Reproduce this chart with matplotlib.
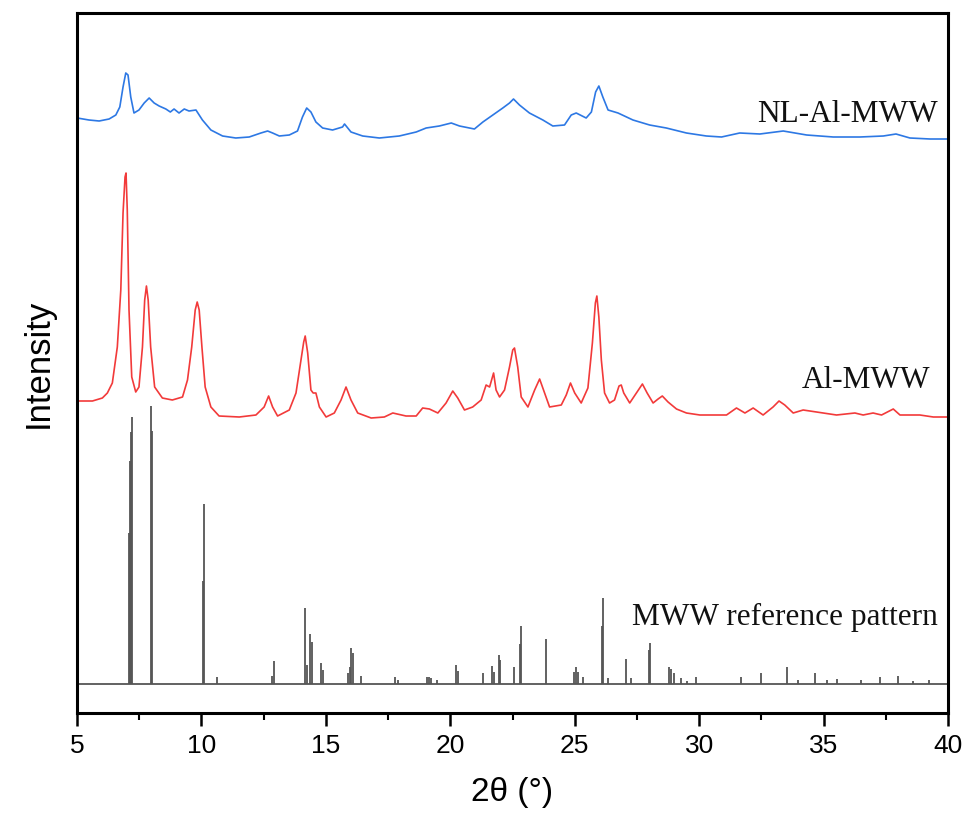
import matplotlib
matplotlib.use("Agg")
import matplotlib.pyplot as plt
from matplotlib.ticker import MultipleLocator

# NL-Al-MWW (blue), y in arbitrary intensity units
nl_x = [5.01, 5.48, 5.89, 6.29, 6.56, 6.72, 6.85, 6.96, 7.05, 7.16, 7.29, 7.49, 7.70, 7.90,
        8.10, 8.30, 8.57, 8.75, 8.90, 9.10, 9.31, 9.50, 9.78, 10.04, 10.38, 10.85, 11.38,
        11.92, 12.39, 12.66, 12.86, 13.13, 13.53, 13.86, 14.06, 14.23, 14.40, 14.60, 14.87,
        15.27, 15.67, 15.75, 16.01, 16.48, 17.15, 17.95, 18.63, 19.03, 19.56, 20.04, 20.37,
        20.97, 21.31, 21.71, 22.11, 22.38, 22.54, 22.78, 23.18, 23.72, 24.12, 24.59, 24.86,
        25.06, 25.46, 25.67, 25.84, 25.97, 26.13, 26.34, 26.74, 27.34, 28.01, 28.68, 29.49,
        30.29, 30.90, 31.63, 32.44, 33.38, 34.32, 35.39, 36.46, 37.40, 37.91, 38.47, 39.28,
        40.0]
nl_y = [595, 593, 592, 594, 598, 606, 626, 640, 638, 616, 600, 603, 610, 615,
        610, 607, 604, 601, 604, 600, 604, 602, 603, 593, 583, 577, 575,
        576, 580, 582, 580, 577, 578, 582, 596, 605, 601, 591, 585,
        583, 586, 589, 581, 577, 575, 577, 581, 585, 587, 590, 587,
        584, 591, 598, 605, 610, 614, 608, 600, 593, 587, 588, 598,
        600, 595, 601, 621, 627, 616, 603, 600, 593, 588, 585, 580,
        577, 576, 580, 579, 582, 578, 576, 576, 577, 579, 575, 574,
        574]

# Al-MWW (red)
al_x = [5.01, 5.62, 6.02, 6.22, 6.42, 6.62, 6.76, 6.85, 6.93, 6.97, 7.02, 7.09, 7.20, 7.36,
        7.49, 7.63, 7.72, 7.79, 7.86, 7.96, 8.12, 8.43, 8.83, 9.24, 9.44, 9.61, 9.75, 9.83,
        9.91, 10.02, 10.15, 10.38, 10.71, 11.52, 12.19, 12.52, 12.70, 12.86, 13.06, 13.53,
        13.80, 14.00, 14.11, 14.17, 14.27, 14.40, 14.49, 14.60, 14.74, 15.01, 15.34, 15.61,
        15.81, 16.01, 16.28, 16.82, 17.35, 17.69, 18.22, 18.63, 18.89, 19.16, 19.50, 19.83,
        20.10, 20.30, 20.57, 20.90, 21.24, 21.44, 21.58, 21.74, 21.84, 21.98, 22.18, 22.38,
        22.51, 22.58, 22.71, 22.85, 23.12, 23.39, 23.59, 23.79, 23.99, 24.46, 24.66, 24.83,
        25.00, 25.26, 25.53, 25.71, 25.83, 25.89, 25.97, 26.07, 26.20, 26.40, 26.60, 26.78,
        26.87, 26.97, 27.21, 27.48, 27.72, 27.91, 28.15, 28.35, 28.52, 28.75, 29.09, 29.49,
        30.03, 31.10, 31.50, 31.84, 32.17, 32.57, 32.97, 33.21, 33.44, 33.78, 34.18, 34.72,
        35.52, 36.26, 36.59, 36.99, 37.33, 37.80, 38.07, 38.87, 39.41, 40.0]
al_y = [312, 312, 315, 320, 330, 366, 423, 500, 536, 540, 503, 403, 336, 321,
        326, 366, 413, 427, 413, 366, 326, 315, 313, 316, 333, 366, 403, 411,
        403, 366, 326, 306, 297, 296, 298, 306, 317, 306, 297, 303,
        320, 353, 371, 377, 360, 323, 320, 320, 306, 296, 300, 313,
        326, 313, 300, 295, 296, 300, 297, 297, 305, 304, 300, 310,
        322, 315, 303, 306, 313, 328, 326, 340, 323, 316, 323, 346,
        363, 365, 346, 316, 306, 323, 334, 320, 306, 308, 318, 330,
        320, 310, 325, 370, 410, 417, 396, 353, 320, 310, 313, 327,
        328, 320, 310, 320, 329, 320, 310, 314, 317, 311, 304, 300,
        298, 298, 305, 300, 305, 298, 306, 312, 308, 300, 303, 301,
        298, 300, 298, 300, 298, 304, 298, 298, 296, 296]

# MWW reference pattern (stick pattern)
ref_base = 29.5
ref_pos = [7.08, 7.13, 7.17, 7.22, 7.97, 8.02, 10.06, 10.10, 10.63, 12.83, 12.93,
           14.17, 14.25, 14.37, 14.45, 14.82, 14.87, 15.89, 15.97, 16.03, 16.09, 16.41,
           17.77, 17.90, 19.05, 19.15, 19.24, 19.45, 20.24, 20.33, 21.33, 21.66, 21.76,
           21.95, 22.00, 22.57, 22.79, 22.83, 23.86, 24.97, 25.06, 25.14, 25.33, 26.08,
           26.12, 26.33, 27.07, 27.27, 27.97, 28.01, 28.78, 28.87, 29.00, 29.26, 29.53,
           29.86, 31.70, 32.47, 33.54, 33.98, 34.65, 35.12, 35.55, 36.49, 37.26, 38.00,
           38.60, 39.25]
ref_int = [180, 252, 281, 296, 307, 282, 132, 209, 36, 37, 52,
           105, 48, 79, 71, 50, 43, 40, 46, 65, 60, 37,
           36, 33, 36, 36, 35, 33, 48, 42, 40, 47, 41,
           58, 53, 46, 69, 87, 74, 41, 46, 41, 36, 87,
           115, 35, 54, 35, 63, 70, 46, 44, 40, 35, 32,
           36, 36, 40, 46, 33, 40, 33, 34, 33, 36, 37,
           32, 33]

labels = ["NL-Al-MWW", "Al-MWW", "MWW reference pattern"]
xticks = [5, 10, 15, 20, 25, 30, 35, 40]

plt.rcParams['font.family'] = ['Liberation Sans', 'DejaVu Sans']

fig = plt.figure(figsize=(9.68, 8.31), dpi=100)
ax = fig.add_axes([77 / 968, 118 / 831, 871 / 968, 700 / 831])

ax.plot(nl_x, nl_y, color="#2d78e4", lw=1.2)
ax.plot(al_x, al_y, color="#f23a3a", lw=1.2)
ax.hlines(ref_base, 5, 40, color="#555555", lw=1.3)
ax.vlines(ref_pos, ref_base, ref_int, color="#555555", lw=1.3)

serif = ['Liberation Serif', 'DejaVu Serif']
ax.text(39.6, 591, labels[0], ha="right", va="baseline", fontsize=22.5, family=serif, color="#111111")
ax.text(39.3, 325, labels[1], ha="right", va="baseline", fontsize=22.5, family=serif, color="#111111")
ax.text(39.6, 88, labels[2], ha="right", va="baseline", fontsize=22.5, family=serif, color="#111111")

ax.set_xlim(5, 40)
ax.set_ylim(0, 700)
ax.set_xticks(xticks)
ax.xaxis.set_minor_locator(MultipleLocator(2.5))
ax.set_yticks([])
ax.tick_params(axis="x", which="major", direction="out", length=9, width=1.8, labelsize=19, pad=6)
ax.tick_params(axis="x", which="minor", direction="out", length=5, width=1.5)
for s in ax.spines.values():
    s.set_linewidth(2.2)

ax.set_xlabel("2θ (°)", fontsize=24, labelpad=14)
ax.set_ylabel("Intensity", fontsize=25, labelpad=16)

fig.savefig("out.png", dpi=100)
